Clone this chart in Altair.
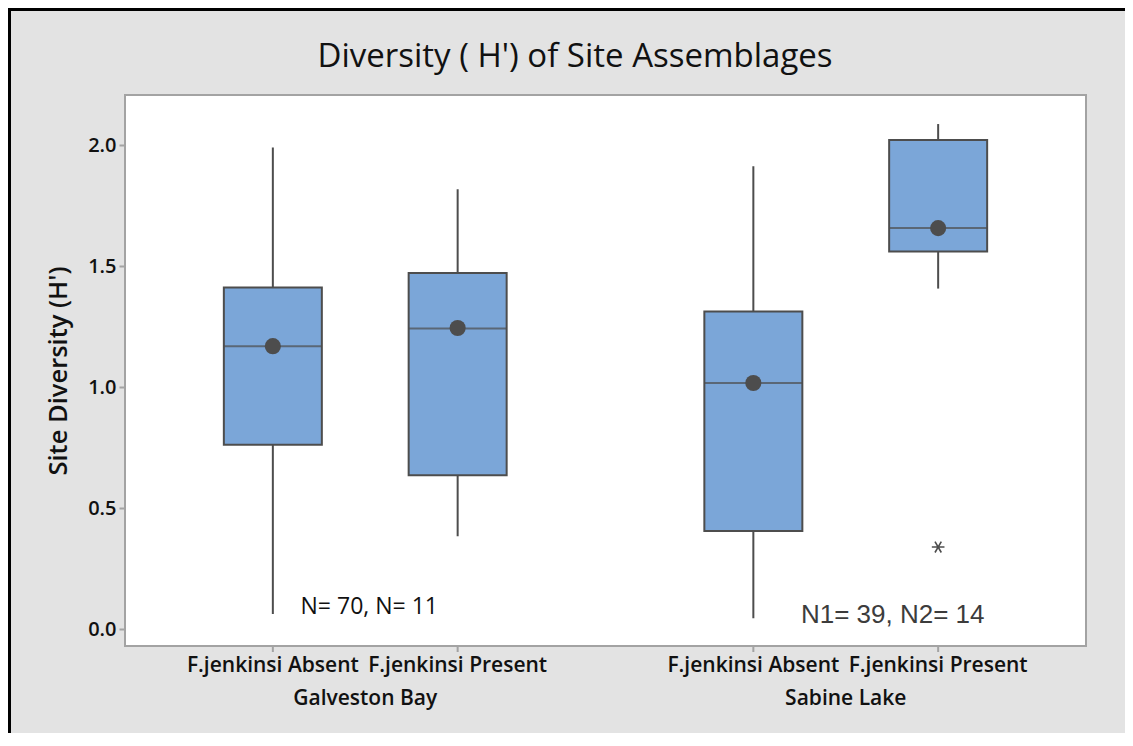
import altair as alt
import pandas as pd

# ---------------- data ----------------
sites = ["Galveston Bay", "Galveston Bay", "Sabine Lake", "Sabine Lake"]
presence = ["F.jenkinsi Absent", "F.jenkinsi Present", "F.jenkinsi Absent", "F.jenkinsi Present"]
whisker_low = [0.062, 0.384, 0.045, 1.407]
q1 = [0.762, 0.636, 0.405, 1.560]
median = [1.169, 1.242, 1.017, 1.657]
q3 = [1.411, 1.471, 1.312, 2.021]
whisker_high = [1.990, 1.818, 1.913, 2.087]
means = [1.169, 1.244, 1.017, 1.657]

outlier_site = ["Sabine Lake"]
outlier_presence = ["F.jenkinsi Present"]
outlier_value = [0.339]

y_ticks = [0.0, 0.5, 1.0, 1.5, 2.0]
site_order = ["Galveston Bay", "Sabine Lake"]
presence_order = ["F.jenkinsi Absent", "F.jenkinsi Present"]

title_text = ["Diversity ( H') of Site Assemblages"]
ann_galveston = ["N= 70, N= 11"]
ann_sabine = ["N1= 39, N2= 14"]

# ---------------- tables ----------------
boxes = pd.DataFrame({
    "site": sites, "presence": presence,
    "low": whisker_low, "q1": q1, "median": median, "q3": q3,
    "high": whisker_high, "mean": means,
})
outliers = pd.DataFrame({"site": outlier_site, "presence": outlier_presence,
                         "value": outlier_value})

W, H = 961, 551
PAD_L, PAD_T, PAD_R, PAD_B = 117, 87, 39, 87

FONT = "Open Sans"
BOX_FILL = "#7BA6D8"
DARK = "#4D4D4D"
FRAME = "#A3A3A3"
TXT = "#111111"

x_enc = alt.X("site:N", sort=site_order,
              scale=alt.Scale(paddingInner=0, paddingOuter=0),
              axis=alt.Axis(title=None, ticks=False, domain=False, labelAngle=0,
                            labelPadding=41, labelFontSize=21, labelFont=FONT,
                            labelFontWeight=600, labelColor=TXT))
xo_enc = alt.XOffset("presence:N", sort=presence_order,
                     scale=alt.Scale(paddingInner=0, paddingOuter=0.3))
y_scale = alt.Scale(domain=[-0.070, 2.207], nice=False, zero=False)
y_axis = alt.Axis(values=y_ticks, format=".1f", grid=False, domain=False,
                  tickSize=6, tickWidth=2, tickColor=FRAME,
                  labelFontSize=20, labelFont=FONT, labelFontWeight=600,
                  labelColor=TXT, labelPadding=3,
                  title="Site Diversity (H')", titleFont=FONT, titleFontSize=25.5,
                  titleFontWeight=600, titleColor=TXT, titlePadding=16)

base = alt.Chart(boxes)

whiskers = base.mark_rule(color=DARK, strokeWidth=2).encode(
    x=x_enc, xOffset=xo_enc,
    y=alt.Y("low:Q", scale=y_scale, axis=y_axis),
    y2="high:Q",
)

box = base.mark_bar(width=98, fill=BOX_FILL, stroke=DARK, strokeWidth=2).encode(
    x=x_enc, xOffset=xo_enc,
    y=alt.Y("q1:Q", scale=y_scale),
    y2="q3:Q",
)

med = base.mark_tick(size=98, thickness=2, color=DARK, orient="horizontal").encode(
    x=x_enc, xOffset=xo_enc,
    y=alt.Y("median:Q", scale=y_scale),
)

mean_pt = base.mark_circle(size=260, color=DARK, opacity=1).encode(
    x=x_enc, xOffset=xo_enc,
    y=alt.Y("mean:Q", scale=y_scale),
)

asterisk = "M-1,0L1,0M-0.5,-0.866L0.5,0.866M-0.5,0.866L0.5,-0.866"
outlier_pt = alt.Chart(outliers).mark_point(
    shape=asterisk, size=160, filled=False, stroke=DARK, strokeWidth=1.6, opacity=1
).encode(
    x=x_enc, xOffset=xo_enc,
    y=alt.Y("value:Q", scale=y_scale),
)

# x ticks under the frame at each box centre
xticks = base.mark_rule(color=FRAME, strokeWidth=2).encode(
    x=x_enc, xOffset=xo_enc,
    y=alt.value(H), y2=alt.value(H + 6),
)

# inner category labels
inner_labels = base.mark_text(font=FONT, fontSize=21, fontWeight=600,
                              color=TXT, baseline="middle").encode(
    x=x_enc, xOffset=xo_enc,
    y=alt.value(H + 20),
    text="presence:N",
)

ann1 = alt.Chart(pd.DataFrame({"site": site_order[:1], "t": ann_galveston})).mark_text(
    font=FONT, fontSize=23, color=TXT, baseline="middle", dx=4
).encode(x=x_enc, y=alt.value(512), text="t:N")

ann2 = alt.Chart(pd.DataFrame({"site": site_order[1:], "t": ann_sabine})).mark_text(
    font="Liberation Sans", fontSize=26, color="#3C3C3C", baseline="middle", dx=47
).encode(x=x_enc, y=alt.value(520), text="t:N")

title = alt.Chart(pd.DataFrame({"t": title_text})).mark_text(
    font=FONT, fontSize=33, color=TXT, baseline="alphabetic", align="center"
).encode(x=alt.value(450), y=alt.value(-28), text="t:N")

# black frame lines of the outer panel (left and top); the top one runs past
# the right edge of the canvas so that nothing shows at its far end
border_left = alt.Chart(pd.DataFrame({"a": [0]})).mark_rect(color="#000000", opacity=1).encode(
    x=alt.value(-PAD_L), x2=alt.value(-PAD_L + 3),
    y=alt.value(-PAD_T), y2=alt.value(H + PAD_B)
)
border_top = alt.Chart(pd.DataFrame({"a": [0]})).mark_rect(color="#000000", opacity=1).encode(
    x=alt.value(-PAD_L), x2=alt.value(W + PAD_R + 60),
    y=alt.value(-PAD_T), y2=alt.value(-PAD_T + 3)
)

chart = alt.layer(
    whiskers, box, med, mean_pt, outlier_pt, xticks, inner_labels, ann1, ann2,
    title, border_left, border_top,
).properties(
    width=W, height=H,
    autosize=alt.AutoSizeParams(type="none"),
    padding={"left": PAD_L, "top": PAD_T, "right": PAD_R, "bottom": PAD_B},
    background="#E3E3E3",
).configure_view(
    fill="white", stroke=FRAME, strokeWidth=2,
)

chart.save("out.html", embed_options={"renderer": "svg", "actions": False})
